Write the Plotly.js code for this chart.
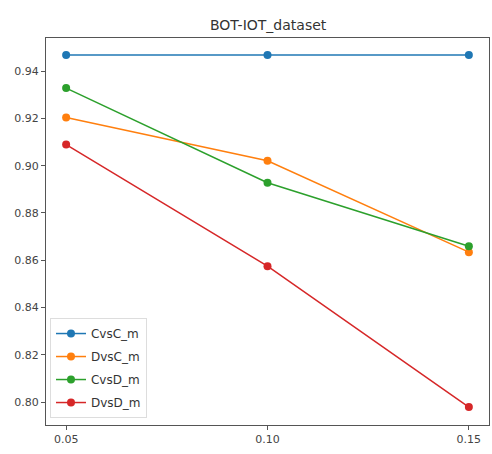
<!DOCTYPE html>
<html>
<head>
<meta charset="utf-8">
<script src="https://cdn.plot.ly/plotly-3.0.1.min.js"></script>
<style>html,body{margin:0;padding:0;background:#fff;}#chart{width:492px;height:454px;}</style>
</head>
<body>
<div id="chart"></div>
<script>
const xValues = [0.05, 0.10, 0.15];
const seriesNames = ["CvsC_m", "DvsC_m", "CvsD_m", "DvsD_m"];
const cvscM = [0.9468, 0.9468, 0.9468];
const dvscM = [0.9204, 0.9021, 0.8634];
const cvsdM = [0.9328, 0.8928, 0.8659];
const dvsdM = [0.9089, 0.8575, 0.7979];
const yTicks = [0.80, 0.82, 0.84, 0.86, 0.88, 0.90, 0.92, 0.94];
const xTicks = [0.05, 0.10, 0.15];
const colors = ["#1f77b4", "#ff7f0e", "#2ca02c", "#d62728"];

const allSeries = [cvscM, dvscM, cvsdM, dvsdM];
const traces = allSeries.map((ys, i) => ({
  x: xValues, y: ys, name: seriesNames[i], legendgroup: "g" + i, type: "scatter", mode: "lines+markers",
  line: {color: colors[i], width: 1.5},
  marker: {color: colors[i], size: 8}
}));

const axisCommon = {
  showline: true, mirror: true, linecolor: "#555", linewidth: 1,
  ticks: "outside", ticklen: 4, tickcolor: "#555", showgrid: false, zeroline: false,
  tickfont: {family: "DejaVu Sans", size: 11, color: "#444"}
};

const layout = {
  width: 492, height: 454,
  margin: {l: 46, r: 3, t: 38, b: 29},
  paper_bgcolor: "#fff", plot_bgcolor: "#fff",
  title: {text: "BOT-IOT_dataset", font: {family: "DejaVu Sans", size: 14, color: "#333"}, x: 0.545, xanchor: "center", y: 0.945, yanchor: "middle"},
  xaxis: Object.assign({}, axisCommon, {range: [0.045, 0.155], tickvals: xTicks, ticktext: xTicks.map(v => v.toFixed(2))}),
  yaxis: Object.assign({}, axisCommon, {range: [0.7903, 0.954], tickvals: yTicks, ticktext: yTicks.map(v => v.toFixed(2))}),
  showlegend: true,
  legend: {x: 0.009, y: 0.018, xanchor: "left", yanchor: "bottom", bgcolor: "rgba(255,255,255,0.8)", bordercolor: "#ddd", borderwidth: 1,
    tracegroupgap: 4, traceorder: "grouped",
    font: {family: "DejaVu Sans", size: 12, color: "#333"}}
};

Plotly.newPlot("chart", traces, layout, {displayModeBar: false, staticPlot: true});
</script>
</body>
</html>
